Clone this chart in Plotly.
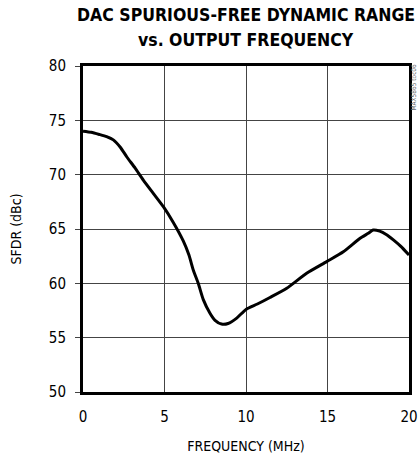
import plotly.graph_objects as go

freq = [0, 0.5, 1, 1.45, 1.86, 2.3, 2.68, 3.2, 3.7, 4.3, 4.93, 5.54, 6.15, 6.5, 6.77, 7.07,
        7.38, 7.79, 8.1, 8.5, 8.9, 9.43, 10.0, 10.7, 11.47, 12.5, 13.72, 14.95, 15.97, 17.0,
        17.5, 17.8, 18.2, 18.6, 19.04, 19.5, 20]
sfdr = [74.0, 73.9, 73.7, 73.5, 73.2, 72.5, 71.65, 70.6, 69.5, 68.3, 67.05, 65.6, 63.9, 62.6,
        61.2, 60.0, 58.5, 57.25, 56.6, 56.25, 56.3, 56.8, 57.6, 58.1, 58.7, 59.55, 60.93, 62.0,
        62.9, 64.15, 64.6, 64.9, 64.8, 64.5, 64.0, 63.4, 62.6]

x_ticks = [0, 5, 10, 15, 20]
y_ticks = [50, 55, 60, 65, 70, 75, 80]

title_lines = ["DAC SPURIOUS-FREE DYNAMIC RANGE", "vs. OUTPUT FREQUENCY"]

FONT = "DejaVu Sans Condensed, Liberation Sans Narrow, sans-serif"

fig = go.Figure()
fig.add_trace(go.Scatter(x=freq, y=sfdr, mode="lines",
                         line=dict(color="black", width=3, shape="spline", smoothing=0.6),
                         showlegend=False, hoverinfo="skip"))

fig.update_layout(
    width=418, height=456,
    margin=dict(l=83, r=9, t=66, b=64, autoexpand=False),
    paper_bgcolor="white", plot_bgcolor="white",
    font=dict(family=FONT, size=15, color="black"),
    xaxis=dict(range=[0, 20], tickvals=x_ticks, ticktext=[str(v) for v in x_ticks],
               showgrid=True, gridcolor="#444", gridwidth=1,
               showline=True, linecolor="black", linewidth=3, mirror=True,
               ticks="", zeroline=False, ticklabelstandoff=9, automargin=False,
               title=dict(text="FREQUENCY (MHz)", font=dict(size=14), standoff=17)),
    yaxis=dict(range=[50, 80], tickvals=y_ticks, ticktext=[str(v) for v in y_ticks],
               showgrid=True, gridcolor="#444", gridwidth=1,
               showline=True, linecolor="black", linewidth=3, mirror=True,
               ticks="outside", ticklen=5, tickwidth=1, tickcolor="#444",
               zeroline=False, ticklabelstandoff=6, automargin=False,
               title=dict(text="SFDR (dBc)", font=dict(size=14), standoff=24)),
)

for txt, shift in zip(title_lines, [51, 26]):
    fig.add_annotation(text="<b>" + txt + "</b>", xref="paper", yref="paper",
                       x=0.5, y=1.0, yshift=shift, xanchor="center", yanchor="middle",
                       showarrow=False, font=dict(family=FONT, size=17.5, color="black"))

fig.add_annotation(text="MAX5865 toc06", xref="paper", yref="paper",
                   x=1.0, y=1.0, xshift=-1, yshift=3, xanchor="left", yanchor="top",
                   textangle=-90, showarrow=False, borderpad=0,
                   font=dict(family="DejaVu Sans Condensed, sans-serif", size=6.5, color="#666"))

fig.write_html(
    "out.html",
    config={"displayModeBar": False},
    post_script="document.body.style.margin='0';document.body.style.overflow='hidden';",
)
